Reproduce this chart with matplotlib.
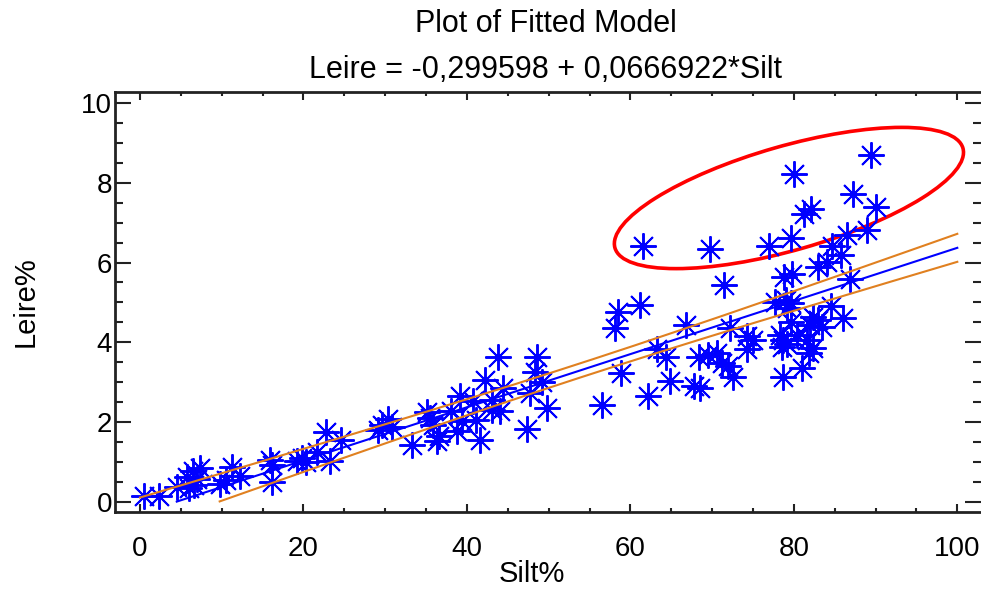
import numpy as np
import matplotlib.pyplot as plt
from matplotlib.patches import Ellipse
from matplotlib.transforms import ScaledTranslation

plt.rcParams['font.family'] = ['Liberation Sans', 'DejaVu Sans']

# Silt% and Leire% (clay) for each sample
silt = np.array([
    0.5, 2.3, 4.5, 5.8, 6.5, 7.3, 6.0, 6.6, 7.0, 9.8,
    10.5, 11.3, 12.2, 16.2, 16.2, 15.9, 19.2, 19.8, 20.3, 21.7,
    22.8, 23.3, 24.6, 29.1, 29.6, 30.4, 30.8, 33.3, 35.1, 35.5,
    35.9, 36.4, 36.6, 38.1, 38.8, 39.2, 39.4, 40.8, 41.1, 41.6,
    42.2, 43.1, 43.1, 43.8, 44.1, 44.4, 47.4, 47.7, 48.3, 48.6,
    49.2, 49.8, 56.5, 58.1, 58.5, 58.8, 61.2, 61.6, 62.1, 63.3,
    64.4, 64.9, 66.8, 67.8, 68.5, 68.4, 69.5, 70.6, 71.2, 72.0,
    72.6, 69.8, 71.4, 72.2, 74.3, 74.3, 77.0, 79.6, 80.0, 81.2,
    82.1, 87.3, 89.4, 90.0, 88.9, 86.5, 84.7, 85.8, 84.1, 83.0,
    86.9, 78.8, 79.8, 77.7, 79.0, 79.6, 79.2, 82.4, 84.5, 86.0,
    82.9, 82.0, 83.4, 79.6, 78.3, 78.7, 78.6, 80.4, 82.3, 81.8,
    81.0, 78.7, 79.2, 81.6, 75.0,
])
leire = np.array([
    0.13, 0.13, 0.37, 0.62, 0.77, 0.85, 0.35, 0.42, 0.57, 0.45,
    0.55, 0.87, 0.65, 0.92, 0.50, 1.05, 1.02, 1.10, 1.00, 1.25,
    1.75, 1.02, 1.55, 1.80, 1.93, 2.08, 1.88, 1.43, 2.25, 2.10,
    1.93, 1.53, 1.65, 2.28, 1.78, 2.65, 2.03, 2.53, 2.05, 1.55,
    3.06, 2.55, 2.30, 3.63, 2.27, 2.86, 1.83, 2.73, 3.26, 3.63,
    3.01, 2.35, 2.43, 4.36, 4.76, 3.23, 4.94, 6.42, 2.65, 3.83,
    3.63, 3.03, 4.44, 2.91, 2.86, 3.63, 3.68, 3.73, 3.48, 3.41,
    3.13, 6.34, 5.44, 4.36, 4.16, 3.83, 6.42, 6.62, 8.23, 7.22,
    7.35, 7.72, 8.70, 7.40, 6.82, 6.70, 6.42, 6.19, 6.02, 5.89,
    5.59, 5.64, 5.72, 5.01, 5.06, 4.99, 4.86, 4.64, 4.91, 4.61,
    4.56, 4.44, 4.39, 4.51, 4.19, 4.06, 3.88, 4.19, 3.86, 3.73,
    3.36, 3.13, 3.95, 4.06, 4.06,
])

# fitted model
intercept = -0.299598
slope = 0.0666922

x_ticks = [0, 20, 40, 60, 80, 100]
y_ticks = [0, 2, 4, 6, 8, 10]

# 95% confidence limits for the mean response
n = len(silt)
resid = leire - (intercept + slope * silt)
s = np.sqrt(np.sum(resid ** 2) / (n - 2))
sxx = np.sum((silt - silt.mean()) ** 2)
xx = np.linspace(0, 100, 401)
yy = intercept + slope * xx
half = 1.98 * s * np.sqrt(1 / n + (xx - silt.mean()) ** 2 / sxx)
upper = yy + half
lower = yy - half
# nothing is drawn below zero
yy = np.where(yy < 0, np.nan, yy)
upper = np.where(upper < 0, np.nan, upper)
lower = np.where(lower < 0, np.nan, lower)

fig = plt.figure(figsize=(9.81, 5.91), dpi=100)
ax = fig.add_axes([0.1172, 0.1337, 0.8828, 0.7106])

ax.plot(silt, leire, linestyle='none', marker=(8, 2, 0), markersize=19,
        markeredgewidth=1.4, color='#0000ff')
ax.plot(xx, yy, color='#0000ff', lw=1.5)
ax.plot(xx, upper, color='#e08020', lw=1.5)
ax.plot(xx, lower, color='#e08020', lw=1.5)

# ring round the high-clay samples
ring = Ellipse((0, 0), 3.62, 1.04, angle=16, fill=False, edgecolor='red', lw=2.6,
               transform=fig.dpi_scale_trans + ScaledTranslation(79.4, 7.62, ax.transData))
ax.add_patch(ring)

ax.set_xlim(-3.06, 102.9)
ax.set_ylim(-0.26, 10.28)
ax.set_xticks(x_ticks)
ax.set_yticks(y_ticks)
ax.set_xticks(np.arange(0, 101, 5), minor=True)
ax.set_yticks(np.arange(0, 10.01, 0.5), minor=True)
ax.tick_params(which='both', direction='in', top=True, right=True, width=1.5,
               color='#222222', labelsize=20)
ax.tick_params(axis='x', which='major', length=6, pad=17)
ax.tick_params(axis='x', which='minor', length=2.6)
ax.tick_params(axis='y', which='major', length=11.5, pad=2)
ax.tick_params(axis='y', which='minor', length=6)
for sp in ax.spines.values():
    sp.set_linewidth(2)
    sp.set_color('#222222')
ax.spines['right'].set_visible(False)

fig.text(0.556, 0.960, 'Plot of Fitted Model', ha='center', va='center', fontsize=22)
fig.text(0.556, 0.882, 'Leire = -0,299598 + 0,0666922*Silt', ha='center', va='center', fontsize=22)
fig.text(0.542, 0.028, 'Silt%', ha='center', va='center', fontsize=21)
fig.text(0.026, 0.49, 'Leire%', ha='center', va='center', rotation=90, fontsize=21)

plt.savefig('out.png')
